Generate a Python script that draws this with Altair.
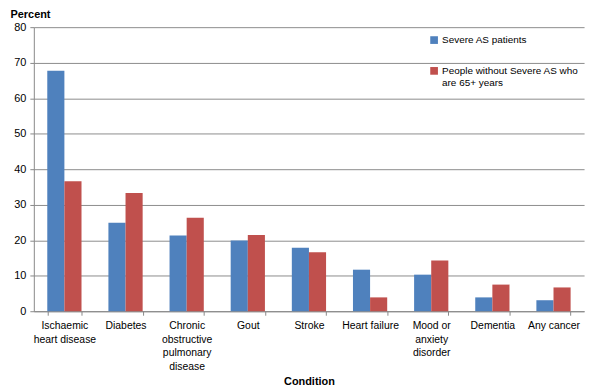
import altair as alt
import pandas as pd

conditions = ["Ischaemic heart disease", "Diabetes", "Chronic obstructive pulmonary disease",
              "Gout", "Stroke", "Heart failure", "Mood or anxiety disorder", "Dementia", "Any cancer"]
label_lines = {
    "Ischaemic heart disease": ["Ischaemic", "heart disease"],
    "Chronic obstructive pulmonary disease": ["Chronic", "obstructive", "pulmonary", "disease"],
    "Mood or anxiety disorder": ["Mood or", "anxiety", "disorder"],
}
series = ["Severe AS patients", "People without Severe AS who are 65+ years"]
severe = [67.7, 24.9, 21.3, 19.9, 17.9, 11.7, 10.3, 3.9, 3.1]
without = [36.6, 33.3, 26.3, 21.5, 16.6, 3.9, 14.3, 7.5, 6.7]

rows = []
for c, a, b in zip(conditions, severe, without):
    rows.append({"Condition": c, "Series": series[0], "Percent": a})
    rows.append({"Condition": c, "Series": series[1], "Percent": b})
df = pd.DataFrame(rows)

expr = "datum.label"
for k, v in label_lines.items():
    arr = "[" + ",".join("'" + s + "'" for s in v) + "]"
    expr = f"datum.label == '{k}' ? {arr} : ({expr})"

legend_expr = ("datum.label == '" + series[1] + "' ? ['People without Severe AS who', 'are 65+ years'] : datum.label")

font = "Liberation Sans"
chart = alt.Chart(df).mark_bar().encode(
    x=alt.X("Condition:N", sort=conditions, title="Condition",
            scale=alt.Scale(paddingInner=0.44, paddingOuter=0.22),
            axis=alt.Axis(labelAngle=0, labelExpr=expr, tickBand="extent", labelFontSize=10.5,
                          labelFont=font, labelColor="#000", labelPadding=5, labelLineHeight=14,
                          domainColor="#888", tickColor="#888", tickSize=4,
                          titleFont=font, titleFontSize=11, titleFontWeight="bold",
                          titleColor="#000", titlePadding=3, labelLimit=200)),
    xOffset=alt.XOffset("Series:N", sort=series),
    y=alt.Y("Percent:Q", scale=alt.Scale(domain=[0, 80]),
            axis=alt.Axis(values=list(range(0, 81, 10)), title="Percent", titleAngle=0,
                          titleX=-24, titleY=-8, titleAlign="left", titleBaseline="bottom",
                          titleFont=font, titleFontSize=11, titleFontWeight="bold",
                          titleColor="#000", labelFont=font, labelFontSize=11,
                          labelColor="#000", domainColor="#888", tickColor="#888",
                          tickSize=4, gridColor="#8c8c8c", labelPadding=4)),
    color=alt.Color("Series:N", sort=series,
                    scale=alt.Scale(domain=series, range=["#4F81BD", "#C0504D"]),
                    legend=alt.Legend(title=None, orient="none", legendX=398, legendY=8,
                                      symbolType="square", symbolSize=60, symbolStrokeWidth=0,
                                      labelFont=font, labelFontSize=10, labelColor="#000",
                                      labelExpr=legend_expr, rowPadding=21, labelLimit=300,
                                      labelOffset=3)),
).properties(
    width=554, height=286,
    padding={"left": 26, "top": 18, "right": 10, "bottom": 78},
    autosize=alt.AutoSizeParams(type="none"),
).configure_view(stroke=None).configure_axis(grid=False).configure_axisY(grid=True)

chart.save("out.html", embed_options={"renderer": "svg", "actions": False})
